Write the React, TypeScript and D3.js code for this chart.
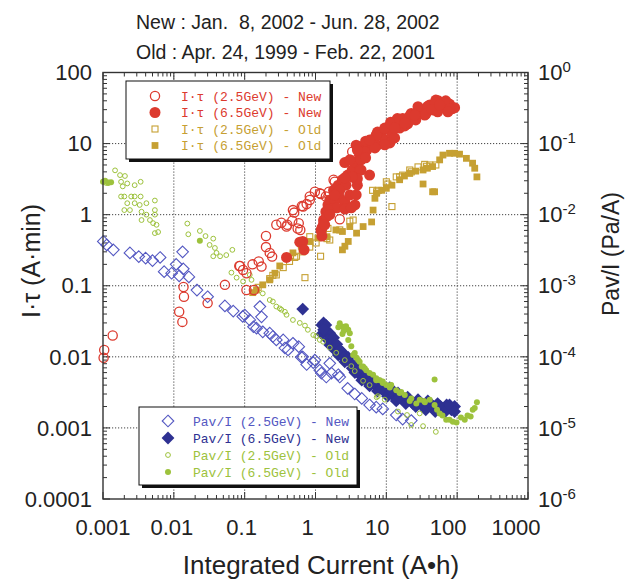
import React from "react";
import * as d3 from "d3";

// ---- data ----
// x: integrated current (A·h); I·τ series in A·min (left axis), Pav/I series in Pa/A (right axis)

const xTickLabels = ["0.001", "0.01", "0.1", "1", "10", "100", "1000"];
const yTickLabels = ["0.0001", "0.001", "0.01", "0.1", "1", "10", "100"];
const yRightExps = ["-6", "-5", "-4", "-3", "-2", "-1", "0"];
const titleLines = ["New : Jan.  8, 2002 - Jun. 28, 2002", "Old : Apr. 24, 1999 - Feb. 22, 2001"];

const itau25New = [
  [0.00102, 0.0097], [0.00104, 0.0125], [0.00137, 0.02], [0.0137, 0.096], [0.0139, 0.07],
  [0.0119, 0.043], [0.0132, 0.031], [0.03, 0.057], [0.0526, 0.103], [0.084, 0.19],
  [0.106, 0.15], [0.129, 0.2], [0.158, 0.22], [0.173, 0.186], [0.106, 0.087], [0.135, 0.087],
  [0.2, 0.35], [0.226, 0.29], [0.244, 0.257], [0.28, 0.72], [0.33, 0.77], [0.4, 0.72],
  [0.47, 0.82], [0.61, 0.61], [0.58, 0.76], [0.5, 1.07], [0.64, 1.32], [0.75, 1.41],
  [0.83, 1.8], [0.98, 2.1], [1.19, 1.95], [1.4, 1.8], [1.55, 2.1], [1.8, 3.1], [2.2, 0.86],
  [3.3, 7.7], [0.095, 0.167], [0.086, 0.19], [0.2, 0.5], [0.39, 0.68], [0.56, 0.64],
  [0.48, 1.16], [0.67, 1.3], [0.83, 1.61], [1.15, 2.0], [1.87, 2.9],
];

const itau65New = [
  [0.39, 0.25], [0.6, 0.41], [0.66, 0.42], [0.69, 0.32],
  [1.23, 0.5], [1.23, 0.65], [1.3, 0.84], [1.4, 1.1], [1.5, 1.37], [1.59, 1.61], [1.87, 1.61],
  [2.2, 1.72], [2.59, 1.5], [3.6, 1.37], [3.05, 1.89], [1.8, 2.2], [2.1, 2.6], [2.4, 3.1],
  [2.85, 3.6], [2.7, 2.6], [3.3, 4.25], [3.6, 5.5], [4.2, 6.9], [4.5, 9], [5.3, 8.1],
  [5.8, 3.6], [3.7, 3.2], [5.8, 10.5], [6.9, 12], [7.5, 9.5], [8.5, 14], [9.5, 11.2],
  [10.2, 16.5], [12, 13.5], [13, 20], [15.4, 16.5], [17, 22.5], [20, 19], [22.5, 26.5],
  [26, 22.5], [29.6, 29.7], [34.8, 25.2], [41, 35], [46, 29.7], [54, 40], [61, 34], [69, 40],
  [78, 36], [86, 31], [2.59, 5.4], [3.75, 9.5], [4.2, 4.25], [3.9, 2.6], [4.4, 5.9], [5, 7.6],
  [6.3, 11.2], [7.5, 14.5], [11.5, 20], [11.2, 10.2], [14.3, 22.5], [18.2, 17.7], [28, 33],
  [38, 31], [50, 41], [67, 32], [92, 32], [1.2, 0.6], [1.3, 0.75], [1.45, 0.95], [1.7, 1.2],
  [2.0, 1.25], [2.6, 1.2], [3.2, 1.25],
  [3.05, 5.9], [3.9, 8.1], [5.1, 10.8], [7.2, 13.2], [9.5, 16.5], [11.7, 18.8], [15.4, 22],
  [21.4, 24.5], [38.5, 33.5], [49, 37.5], [66, 37.5], [78, 31], [74, 28], [53, 28], [36, 26],
  [26, 21.5], [18.2, 19.5], [13.1, 12], [9.5, 9.6], [6.9, 8.7], [5.1, 6.3], [4.4, 4.25],
  [3.9, 3.2], [3.75, 1.9], [3.3, 3.4], [5.8, 11.2], [13.1, 16.5], [25.2, 25.2], [44, 30],
  [56.6, 35], [2.59, 3.3], [2.2, 2.2], [1.87, 1.89], [1.5, 1.16], [1.35, 0.72], [1.59, 1.0],
];

const itau25Old = [
  [0.226, 0.126], [0.28, 0.142], [0.35, 0.18], [0.43, 0.22], [0.54, 0.26], [0.65, 0.3],
  [0.83, 0.35], [1.02, 0.4], [1.59, 0.44], [0.83, 0.49], [1.18, 0.26], [0.71, 0.13],
  [1.28, 0.58], [1.5, 0.64], [2.2, 0.61], [1.45, 0.46], [3.05, 0.81], [3.4, 0.84], [6.4, 2.2],
  [7.7, 2.2], [7.3, 2.1], [10, 2.9], [10.5, 2.7], [13.8, 3.4], [15.4, 3.4], [17, 3.6],
  [21.4, 4.25], [22.5, 4.0], [28, 4.7], [34.8, 5.1], [37, 4.8], [41, 5.0], [50, 5.0],
  [12, 1.3], [0.155, 0.095], [0.25, 0.14], [0.51, 0.25],
];

const itau65Old = [
  [0.13, 0.08], [0.147, 0.087], [0.18, 0.103], [0.226, 0.121], [0.267, 0.15], [0.313, 0.19],
  [0.39, 0.26], [0.48, 0.29], [0.63, 0.36], [0.83, 0.42], [1.08, 0.47], [1.45, 0.49],
  [1.94, 0.61], [2.4, 0.58], [3.05, 0.68], [2.4, 0.32], [2.6, 0.36], [2.9, 0.42], [3.8, 0.55],
  [4.7, 0.68], [6.2, 0.79], [6.5, 1.16], [6.9, 1.7], [7.3, 2.0], [8.6, 2.2], [10, 2.35],
  [12, 2.6], [15.4, 3.1], [18, 3.5], [21.4, 3.8], [26, 4.1], [33, 4.25], [38, 4.5], [45, 4.75],
  [56.6, 5.9], [63, 6.9], [78, 7.3], [92, 7.3], [108, 7.1], [135, 6.2], [165, 5.3], [177, 4.5],
  [190, 3.4], [45, 2.1], [33, 2.7], [48, 2.1],
];

const pav25New = [
  [0.00101, 0.0042], [0.00113, 0.00375], [0.0014, 0.0032], [0.0024, 0.0029], [0.0032, 0.00257],
  [0.004, 0.00245], [0.005, 0.00226], [0.0064, 0.0025], [0.0073, 0.00158], [0.0093, 0.0015],
  [0.0108, 0.002], [0.0133, 0.003], [0.0136, 0.00173], [0.0119, 0.00138], [0.0163, 0.00133],
  [0.0212, 0.00087], [0.03, 0.0007], [0.0526, 0.00052], [0.069, 0.00044], [0.094, 0.00037],
  [0.118, 0.00033], [0.1, 0.000388], [0.147, 0.000253], [0.133, 0.000265], [0.164, 0.00051],
  [0.173, 0.000365], [0.18, 0.000225], [0.226, 0.000215], [0.25, 0.000193], [0.28, 0.000173],
  [0.35, 0.000173], [0.37, 0.000133], [0.41, 0.000125], [0.48, 0.000155], [0.58, 0.000139],
  [0.63, 0.000099], [0.66, 0.0001], [0.75, 0.000078], [0.93, 0.000083], [0.98, 0.00009],
  [1.15, 0.000065], [1.21, 0.000059], [1.42, 0.000052], [1.59, 0.000081], [1.68, 0.000059],
  [2.1, 0.000056], [2.2, 0.000052], [2.85, 0.000036], [3.58, 0.00003], [4.5, 0.000026],
  [5.8, 0.000021], [7.2, 0.0000196], [8.9, 0.0000185], [13.8, 0.0000152], [17, 0.0000133],
  [22.5, 0.0000127],
];

const pav65New = [
  [0.66, 0.00047], [1.3, 0.0003], [1.23, 0.00028], [1.23, 0.00021], [1.4, 0.000225],
  [1.4, 0.00028], [1.59, 0.000215], [1.5, 0.000173], [1.59, 0.000147], [1.8, 0.000186],
  [1.87, 0.000125], [2.1, 0.000106], [2.4, 0.000116], [2.59, 0.000085], [2.9, 0.000098],
  [3.3, 0.000069], [3.8, 0.000077], [4.2, 0.000056], [4.8, 0.00006], [5.5, 0.000044],
  [6.3, 0.00005], [7.2, 0.000038], [8.1, 0.000042], [9.5, 0.000032], [11.2, 0.000037],
  [12.7, 0.000028], [14.6, 0.000031], [17, 0.000025], [20, 0.000027], [23.7, 0.000022],
  [28, 0.000025], [33, 0.00002], [38.5, 0.000024], [45, 0.000019], [53, 0.000022],
  [62, 0.000018], [71, 0.000021], [83, 0.000018], [92, 0.00002],
  [1.3, 0.00024], [1.74, 0.000147], [2.0, 0.00015], [2.2, 0.000125], [2.5, 0.000098],
  [3.05, 0.000085], [3.6, 0.00006], [4, 0.000065], [4.5, 0.000047], [5.2, 0.000051],
  [5.8, 0.000039], [6.6, 0.000044], [7.5, 0.000033], [8.6, 0.000036], [10.4, 0.000028],
  [11.7, 0.000033], [13.8, 0.000024], [15.4, 0.000027], [18.8, 0.000022], [21.4, 0.000025],
  [26, 0.00002], [29.6, 0.000023], [36, 0.000018], [42, 0.000022], [49, 0.000017],
  [58, 0.00002], [68, 0.000017], [78, 0.000021], [92, 0.000017],
];

const pav25Old = [
  [0.00102, 0.029], [0.0011, 0.028], [0.0012, 0.0285], [0.00148, 0.042], [0.00174, 0.036],
  [0.00204, 0.035], [0.0018, 0.029], [0.0022, 0.0275], [0.0028, 0.026], [0.0034, 0.029],
  [0.0019, 0.025], [0.0018, 0.018], [0.002, 0.018], [0.0025, 0.018], [0.0028, 0.018],
  [0.0034, 0.018], [0.0022, 0.0145], [0.0028, 0.0145], [0.002, 0.0116], [0.0024, 0.0116],
  [0.0033, 0.0137], [0.0041, 0.0145], [0.0054, 0.0158], [0.0035, 0.011], [0.0041, 0.01],
  [0.0054, 0.0116], [0.0054, 0.01], [0.0035, 0.0084], [0.0046, 0.0084], [0.0051, 0.0076],
  [0.0057, 0.0072], [0.006, 0.0057], [0.0054, 0.0055], [0.0155, 0.0075], [0.016, 0.0053],
  [0.0233, 0.0059], [0.028, 0.005], [0.036, 0.0046], [0.032, 0.00375], [0.038, 0.0034],
  [0.045, 0.0026], [0.055, 0.0027], [0.067, 0.0032], [0.036, 0.0026], [0.04, 0.0029],
  [0.065, 0.00153], [0.077, 0.0013], [0.095, 0.00115], [0.118, 0.00142], [0.125, 0.00121],
  [0.147, 0.00087], [0.18, 0.00078], [0.226, 0.00063], [0.25, 0.0006], [0.28, 0.00051],
  [0.313, 0.00048], [0.33, 0.00046], [0.37, 0.00043], [0.39, 0.00039], [0.48, 0.00033],
  [0.6, 0.0003], [0.71, 0.000275], [0.78, 0.00024], [0.93, 0.000203], [1.02, 0.000195],
  [1.15, 0.000173], [1.28, 0.000163], [1.59, 0.000135], [1.96, 0.000114], [2.59, 0.00009],
  [3.2, 0.000074], [3.58, 0.000063], [4.7, 0.000046], [5.8, 0.00004], [7.6, 0.000028],
  [7.3, 0.000027], [9.5, 0.000025], [11.7, 0.00004], [14.6, 0.000017], [19.6, 0.0000152],
  [22.5, 0.000011], [29.6, 0.000016], [33, 0.0000106], [50, 0.0000088],
];

const pav65Old = [
  [0.001, 0.029], [0.00107, 0.03], [0.00118, 0.028], [0.0013, 0.0285], [0.0233, 0.0043],
  [2.2, 0.000296], [2.45, 0.000265], [2.9, 0.00024], [3.05, 0.000215], [2.9, 0.000173],
  [3.2, 0.000141], [3.58, 0.000113], [4, 0.00009], [4.5, 0.000073], [5.2, 0.000065],
  [6.5, 0.000056], [8.1, 0.000047], [10, 0.00004], [11.7, 0.00004], [13.8, 0.000034],
  [18.2, 0.000029], [21.4, 0.000024], [26.5, 0.000022], [29.6, 0.000025], [41, 0.000025],
  [48, 0.000021], [56.6, 0.000016], [70, 0.000013], [87, 0.0000122], [113, 0.000014],
  [140, 0.000015], [166, 0.000018], [190, 0.000023], [48, 0.000048], [3.8, 0.000097],
  [4.7, 0.000073], [5.8, 0.000059], [7.2, 0.000047], [8.9, 0.000043], [2.6, 0.000265],
  [15.4, 0.000031], [35, 0.000023],
  [2.4, 0.00021], [3.4, 0.000106], [4.2, 0.000085], [4.96, 0.000069], [7.2, 0.00005],
  [8.9, 0.000045], [11.2, 0.000037], [16.2, 0.000032], [22.5, 0.000026], [34, 0.000024],
  [52, 0.000018], [62, 0.000015], [78, 0.000013], [98, 0.0000119], [128, 0.000013],
  [155, 0.0000145], [177, 0.000019], [2.1, 0.00026], [2.7, 0.00027], [2.5, 0.00023],
];

const RED = "#dc3a2e";
const GOLD = "#c6a032";
const BLUE = "#5458c2";
const NAVY = "#2e3192";
const GREEN = "#9dc23c";

const legendTop = [
  { label: "I·τ (2.5GeV) - New", kind: "circleOpen", color: RED },
  { label: "I·τ (6.5GeV) - New", kind: "circleFilled", color: RED },
  { label: "I·τ (2.5GeV) - Old", kind: "squareOpen", color: GOLD },
  { label: "I·τ (6.5GeV) - Old", kind: "squareFilled", color: GOLD },
];
const legendBottom = [
  { label: "Pav/I (2.5GeV) - New", kind: "diamondOpen", color: BLUE },
  { label: "Pav/I (6.5GeV) - New", kind: "diamondFilled", color: NAVY },
  { label: "Pav/I (2.5GeV) - Old", kind: "dotOpen", color: GREEN },
  { label: "Pav/I (6.5GeV) - Old", kind: "dotFilled", color: GREEN },
];

const W = 639;
const H = 583;
const L = 103, R = 528, T = 72.5, B = 499;
const FONT = "'Liberation Sans', Arial, Helvetica, sans-serif";
const MONO = "'Liberation Mono', 'DejaVu Sans Mono', monospace";
// the original x labels sit a little left of their ticks
const xLabelNudge = [0, -2, -3, -8, -9, -9, -12];

const x = d3.scaleLog().domain([0.001, 1000]).range([L, R]);
const yL = d3.scaleLog().domain([0.0001, 100]).range([B, T]);
const yR = d3.scaleLog().domain([1e-6, 1]).range([B, T]);

const isDecade = (v: number) => Math.abs(Math.log10(v) - Math.round(Math.log10(v))) < 1e-6;

function Marker({ kind, cx, cy, color }: { kind: string; cx: number; cy: number; color: string }) {
  switch (kind) {
    case "circleOpen":
      return <circle cx={cx} cy={cy} r={4.6} fill="none" stroke={color} strokeWidth={1.3} />;
    case "circleFilled":
      return <circle cx={cx} cy={cy} r={5.5} fill={color} />;
    case "squareOpen":
      return <rect x={cx - 3} y={cy - 3} width={6} height={6} fill="none" stroke={color} strokeWidth={1.1} />;
    case "squareFilled":
      return <rect x={cx - 3.4} y={cy - 3.4} width={6.8} height={6.8} fill={color} />;
    case "diamondOpen": {
      const s = 5.8;
      return <path d={`M${cx},${cy - s}L${cx + s},${cy}L${cx},${cy + s}L${cx - s},${cy}Z`} fill="none" stroke={color} strokeWidth={1.1} />;
    }
    case "diamondFilled": {
      const s = 6.4;
      return <path d={`M${cx},${cy - s}L${cx + s},${cy}L${cx},${cy + s}L${cx - s},${cy}Z`} fill={color} />;
    }
    case "dotOpen":
      return <circle cx={cx} cy={cy} r={2.4} fill="none" stroke={color} strokeWidth={1} />;
    default:
      return <circle cx={cx} cy={cy} r={3} fill={color} />;
  }
}

const series = [
  { data: pav25New, y: yR, kind: "diamondOpen", color: BLUE },
  { data: pav65New, y: yR, kind: "diamondFilled", color: NAVY },
  { data: pav25Old, y: yR, kind: "dotOpen", color: GREEN },
  { data: pav65Old, y: yR, kind: "dotFilled", color: GREEN },
  { data: itau25Old, y: yL, kind: "squareOpen", color: GOLD },
  { data: itau65Old, y: yL, kind: "squareFilled", color: GOLD },
  { data: itau25New, y: yL, kind: "circleOpen", color: RED },
  { data: itau65New, y: yL, kind: "circleFilled", color: RED },
];

function Legend({ x0, y0, w, h, rows, symX, textX, rowY }: any) {
  return (
    <g>
      <rect x={x0 + 3} y={y0 + 3} width={w} height={h} fill="#111" />
      <rect x={x0} y={y0} width={w} height={h} fill="#fff" stroke="#111" strokeWidth={1} />
      {rows.map((r: any, i: number) => (
        <g key={i}>
          <Marker kind={r.kind} cx={symX} cy={rowY[i]} color={r.color} />
          <text x={textX} y={rowY[i] + 4.5} fontFamily={MONO} fontSize={13} fill={r.color}>
            {r.label}
          </text>
        </g>
      ))}
    </g>
  );
}

export default function App() {
  const xt = x.ticks();
  const yt = yL.ticks();
  const xMajors = xt.filter(isDecade);
  const yMajors = yt.filter(isDecade);
  const yRMajors = yR.ticks().filter(isDecade);

  return (
    <svg width={W} height={H} style={{ position: "absolute", left: 0, top: 0, background: "#fff" }}>
      {/* title */}
      {titleLines.map((t, i) => (
        <text key={i} x={136} y={29 + i * 30} fontFamily={FONT} fontSize={19.5} fill="#222" style={{ whiteSpace: "pre" }}>
          {t}
        </text>
      ))}

      {/* grid */}
      {xMajors.slice(1, -1).map((v) => (
        <line key={"gx" + v} x1={x(v)} x2={x(v)} y1={T} y2={B} stroke="#444" strokeWidth={1} strokeDasharray="1.2,1.8" />
      ))}
      {yMajors.slice(1, -1).map((v) => (
        <line key={"gy" + v} x1={L} x2={R} y1={yL(v)} y2={yL(v)} stroke="#444" strokeWidth={1} strokeDasharray="1.2,1.8" />
      ))}

      {/* ticks */}
      {xt.map((v) => {
        const len = isDecade(v) ? 7 : 4;
        return (
          <g key={"tx" + v}>
            <line x1={x(v)} x2={x(v)} y1={B} y2={B - len} stroke="#333" strokeWidth={1} />
            <line x1={x(v)} x2={x(v)} y1={T} y2={T + len} stroke="#333" strokeWidth={1} />
          </g>
        );
      })}
      {yt.map((v) => {
        const len = isDecade(v) ? 7 : 4;
        return (
          <g key={"ty" + v}>
            <line x1={L} x2={L + len} y1={yL(v)} y2={yL(v)} stroke="#333" strokeWidth={1} />
            <line x1={R} x2={R - len} y1={yL(v)} y2={yL(v)} stroke="#333" strokeWidth={1} />
          </g>
        );
      })}

      {/* points */}
      {series.map((s, si) => (
        <g key={"s" + si}>
          {s.data.map((d, i) => (
            <Marker key={i} kind={s.kind} cx={x(d[0])} cy={s.y(d[1])} color={s.color} />
          ))}
        </g>
      ))}

      {/* frame */}
      <rect x={L} y={T} width={R - L} height={B - T} fill="none" stroke="#333" strokeWidth={1.4} />

      {/* legends */}
      <Legend x0={126} y0={81} w={204} h={78} rows={legendTop} symX={155} textX={181} rowY={[96, 112.5, 129, 145.5]} />
      <Legend x0={139} y0={407} w={218} h={78} rows={legendBottom} symX={168} textX={193} rowY={[421, 438, 455, 472]} />

      {/* axis labels */}
      {xMajors.map((v, i) => (
        <text key={"lx" + v} x={x(v) + xLabelNudge[i]} y={535} textAnchor="middle" fontFamily={FONT} fontSize={22} fill="#222">
          {xTickLabels[i]}
        </text>
      ))}
      {yMajors.map((v, i) => (
        <text key={"ly" + v} x={92} y={yL(v)} dy="0.35em" textAnchor="end" fontFamily={FONT} fontSize={22} fill="#222">
          {yTickLabels[i]}
        </text>
      ))}
      {yRMajors.map((v, i) => (
        <text key={"lr" + v} x={538} y={yR(v)} dy="0.35em" fontFamily={FONT} fontSize={22} fill="#222">
          10
          <tspan dy={-8} fontSize={15}>{yRightExps[i]}</tspan>
        </text>
      ))}

      <text x={321} y={574} textAnchor="middle" fontFamily={FONT} fontSize={26} fill="#222">
        Integrated Current (A•h)
      </text>
      <text transform="translate(40,261) rotate(-90)" textAnchor="middle" fontFamily={FONT} fontSize={25} fill="#222">
        I·τ (A·min)
      </text>
      <text transform="translate(619,254) rotate(-90)" textAnchor="middle" fontFamily={FONT} fontSize={23} fill="#222">
        Pav/I (Pa/A)
      </text>
    </svg>
  );
}
